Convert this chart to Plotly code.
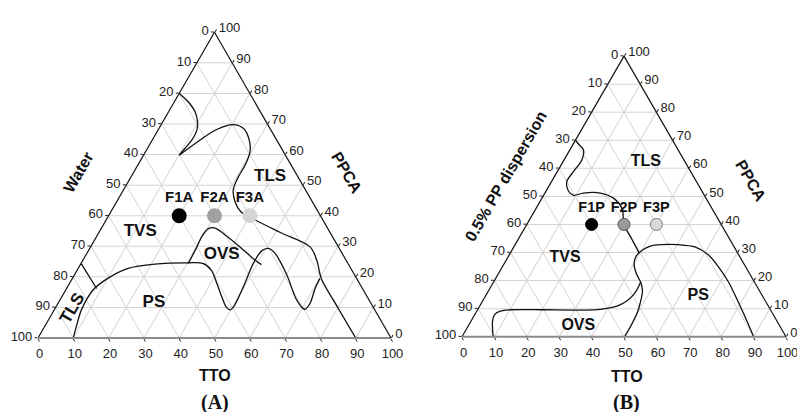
import plotly.graph_objects as go

# ---------------- shared ticks ----------------
TICKS = [0, 10, 20, 30, 40, 50, 60, 70, 80, 90, 100]
TICK_TEXT = [str(100 - t) for t in TICKS]   # each edge is labelled with the complementary component

# ---------------- Panel A  (a = PPCA, c = TTO, b = Water) ----------------
A_TLS1_PPCA = [80.0, 77.2, 74.0, 70.7, 68.0, 64.7, 62.0, 59.8]
A_TLS1_TTO = [0.0, 4.0, 7.5, 9.85, 11.0, 11.2, 10.6, 10.1]

A_TLS2_PPCA = [59.8, 64.7, 68.2, 69.8, 68.5, 64.7, 60.9, 56.5, 52.7, 48.4, 44.5, 41.3, 39.5,
               34.6, 29.8, 25.5, 21.1, 19.0, 9.5, 0.0]
A_TLS2_TTO = [10.1, 13.5, 16.5, 20.4, 24.0, 27.5, 29.6, 30.4, 30.4, 31.1, 33.6, 36.8, 40.3,
              51.2, 62.2, 66.2, 69.3, 70.9, 80.4, 90.0]

A_PS_PPCA = [0.0, 3.7, 9.2, 15.7, 19.5, 22.8, 24.2, 24.6, 24.4, 22.2, 17.9, 13.5, 10.0, 9.2, 10.0,
             16.8, 24.4, 28.5, 29.3, 27.7, 20.6, 12.4, 9.4, 11.3, 16.2, 19.5]
A_PS_TTO = [10.0, 9.0, 7.7, 7.75, 10.0, 14.1, 21.0, 30.2, 34.5, 38.0, 41.7, 45.3, 48.4, 49.8, 50.3,
            49.8, 48.8, 49.1, 50.6, 53.3, 60.2, 67.1, 70.9, 71.4, 70.4, 70.1]

A_OVS_PPCA = [24.4, 29.8, 33.5, 35.8, 36.0, 34.2, 29.8, 25.5, 24.0]
A_OVS_TTO = [30.4, 30.1, 29.8, 30.4, 32.0, 35.4, 42.3, 48.7, 51.3]

A_TLSLINE_PPCA = [24.4, 16.2]
A_TLSLINE_TTO = [0.0, 8.5]

A_FORM_NAMES = ["F1A", "F2A", "F3A"]
A_FORM_PPCA = [40, 40, 40]
A_FORM_TTO = [20, 30, 40]
A_FORM_COLORS = ["#000000", "#a0a0a0", "#d4d4d4"]

A_REGION_NAMES = ["TLS", "TVS", "OVS", "PS"]
A_REGION_PPCA = [52.7, 34.7, 27.1, 11.5]
A_REGION_TTO = [39.4, 11.6, 38.5, 27.1]

# ---------------- Panel B  (a = PPCA, c = TTO, b = 0.5% PP dispersion) ----------------
B_TLS_PPCA = [70.0, 68.0, 66.6, 62.9, 59.0, 55.2, 52.0, 50.4, 51.2, 51.2, 49.3, 45.5, 40.0, 35.0, 29.8]
B_TLS_TTO = [0.0, 2.5, 4.2, 5.5, 5.0, 4.7, 6.8, 9.2, 11.9, 17.1, 22.2, 26.7, 30.0, 34.8, 39.8]

B_PS_PPCA = [19.5, 22.7, 25.8, 28.5, 30.8, 32.3, 32.8, 32.8, 32.0, 29.2, 24.9, 19.5, 11.9, 5.4, 0.0]
B_PS_TTO = [45.4, 42.4, 40.2, 39.4, 40.2, 42.0, 45.0, 50.3, 55.9, 61.4, 66.7, 72.5, 79.5, 85.3, 90.0]

B_SPLIT_PPCA = [19.5, 16.2, 12.0, 8.7, 4.0, 0.0]
B_SPLIT_TTO = [45.4, 47.6, 49.0, 49.8, 50.2, 50.2]

B_OVS_PPCA = [19.5, 15.2, 11.4, 9.7, 9.5, 9.6, 9.6, 9.1, 7.8, 5.4, 2.5, 0.0]
B_OVS_TTO = [45.4, 45.5, 43.2, 37.8, 30.0, 20.0, 10.2, 7.25, 6.1, 6.7, 8.2, 9.6]

B_FORM_NAMES = ["F1P", "F2P", "F3P"]
B_FORM_PPCA = [40, 40, 40]
B_FORM_TTO = [20, 30, 40]
B_FORM_COLORS = ["#000000", "#9a9a9a", "#d9d9d9"]
B_FORM_LINES = ["#000000", "#555555", "#777777"]

B_REGION_NAMES = ["TLS", "TVS", "OVS", "PS"]
B_REGION_PPCA = [62.3, 28.2, 3.8, 14.6]
B_REGION_TTO = [25.6, 17.7, 34.0, 65.6]

# ---------------- layout geometry ----------------
FW, FH = 797, 412
A_X0, A_W, A_Y0 = 38.0, 353.0, 74.0      # px: left corner, base width, base height above bottom
B_X0, B_W, B_Y0 = 462.0, 324.0, 75.3
SQ3 = 3 ** 0.5 / 2

def dom(x0, w, y0):
    h = w * SQ3
    return dict(x=[x0 / FW, (x0 + w) / FW], y=[y0 / FH, (y0 + h) / FH])

def to_paper(x0, w, y0, a, c):
    h = w * SQ3
    return (x0 + w * (c + a / 2) / 100) / FW, (y0 + h * a / 100) / FH

def rest(a, c):
    return [100 - ai - ci for ai, ci in zip(a, c)]

FONT = "Liberation Sans, Arial, sans-serif"

def axis(color="#111", width=1.2):
    return dict(tickmode="array", tickvals=TICKS, ticktext=TICK_TEXT, ticks="outside",
                ticklen=3, tickwidth=1, tickcolor="#222", showline=True, linecolor=color,
                linewidth=width, showgrid=True, gridcolor="#d4d4d4", gridwidth=1,
                tickfont=dict(family=FONT, size=13, color="#222"), title=dict(text=""), min=0)

def tern(x0, w, y0):
    return dict(sum=100, domain=dom(x0, w, y0), bgcolor="white",
                aaxis=axis(), baxis=axis("#8a8a8a", 2), caxis=axis())

fig = go.Figure()

def curve(sub, a, c):
    fig.add_trace(go.Scatterternary(a=a, c=c, b=rest(a, c), mode="lines", subplot=sub,
                                    line=dict(color="#111", width=1.3, shape="spline", smoothing=0.9),
                                    hoverinfo="skip", showlegend=False))

for a, c in [(A_TLS1_PPCA, A_TLS1_TTO), (A_TLS2_PPCA, A_TLS2_TTO), (A_PS_PPCA, A_PS_TTO),
             (A_OVS_PPCA, A_OVS_TTO), (A_TLSLINE_PPCA, A_TLSLINE_TTO)]:
    curve("ternary", a, c)
for a, c in [(B_TLS_PPCA, B_TLS_TTO), (B_PS_PPCA, B_PS_TTO), (B_SPLIT_PPCA, B_SPLIT_TTO),
             (B_OVS_PPCA, B_OVS_TTO)]:
    curve("ternary2", a, c)

# region labels
fig.add_trace(go.Scatterternary(a=A_REGION_PPCA, c=A_REGION_TTO, b=rest(A_REGION_PPCA, A_REGION_TTO),
                                mode="text", text=["<b>%s</b>" % t for t in A_REGION_NAMES],
                                textfont=dict(family=FONT, size=17, color="#111"),
                                subplot="ternary", showlegend=False, hoverinfo="skip"))
fig.add_trace(go.Scatterternary(a=B_REGION_PPCA, c=B_REGION_TTO, b=rest(B_REGION_PPCA, B_REGION_TTO),
                                mode="text", text=["<b>%s</b>" % t for t in B_REGION_NAMES],
                                textfont=dict(family=FONT, size=16, color="#111"),
                                subplot="ternary2", showlegend=False, hoverinfo="skip"))

# formulation points
fig.add_trace(go.Scatterternary(a=A_FORM_PPCA, c=A_FORM_TTO, b=rest(A_FORM_PPCA, A_FORM_TTO),
                                mode="markers+text", text=["<b>%s</b>" % t for t in A_FORM_NAMES],
                                textposition="top center",
                                textfont=dict(family=FONT, size=15, color="#111"),
                                marker=dict(size=15, color=A_FORM_COLORS, line=dict(width=0)),
                                subplot="ternary", showlegend=False, hoverinfo="skip"))
fig.add_trace(go.Scatterternary(a=B_FORM_PPCA, c=B_FORM_TTO, b=rest(B_FORM_PPCA, B_FORM_TTO),
                                mode="markers+text", text=["<b>%s</b>" % t for t in B_FORM_NAMES],
                                textposition="top center",
                                textfont=dict(family=FONT, size=14.5, color="#111"),
                                marker=dict(size=12, color=B_FORM_COLORS,
                                            line=dict(width=1, color=B_FORM_LINES)),
                                subplot="ternary2", showlegend=False, hoverinfo="skip"))

ann = []
def txt(x, y, s, size=16, angle=0, family=FONT):
    ann.append(dict(x=x, y=y, xref="paper", yref="paper", text=s, showarrow=False,
                    textangle=angle, font=dict(family=family, size=size, color="#111"),
                    xanchor="center", yanchor="middle"))

tx, ty = to_paper(A_X0, A_W, A_Y0, 9.7, 4.7)
txt(tx, ty, "<b>TLS</b>", 17, -60)
txt(78 / FW, 1 - 172 / FH, "<b>Water</b>", 16, -60)
txt(347 / FW, 1 - 172 / FH, "<b>PPCA</b>", 16, 60)
txt(215 / FW, 1 - 375 / FH, "<b>TTO</b>", 16)
txt(215 / FW, 1 - 402 / FH, "<b>(A)</b>", 20, 0, "Liberation Serif, Times New Roman, serif")

txt(506 / FW, 1 - 177 / FH, "<b>0.5% PP dispersion</b>", 16, -60)
txt(751 / FW, 1 - 180 / FH, "<b>PPCA</b>", 16, 60)
txt(626.7 / FW, 1 - 376.7 / FH, "<b>TTO</b>", 16)
txt(626.7 / FW, 1 - 402 / FH, "<b>(B)</b>", 20, 0, "Liberation Serif, Times New Roman, serif")

fig.update_layout(width=FW, height=FH, autosize=False, margin=dict(l=0, r=0, t=0, b=0),
                  paper_bgcolor="white", plot_bgcolor="white",
                  ternary=tern(A_X0, A_W, A_Y0), ternary2=tern(B_X0, B_W, B_Y0),
                  annotations=ann, showlegend=False)

fig.write_html("out.html", config={"displayModeBar": False},
               post_script="document.body.style.margin='0px';document.body.style.overflow='hidden';")
